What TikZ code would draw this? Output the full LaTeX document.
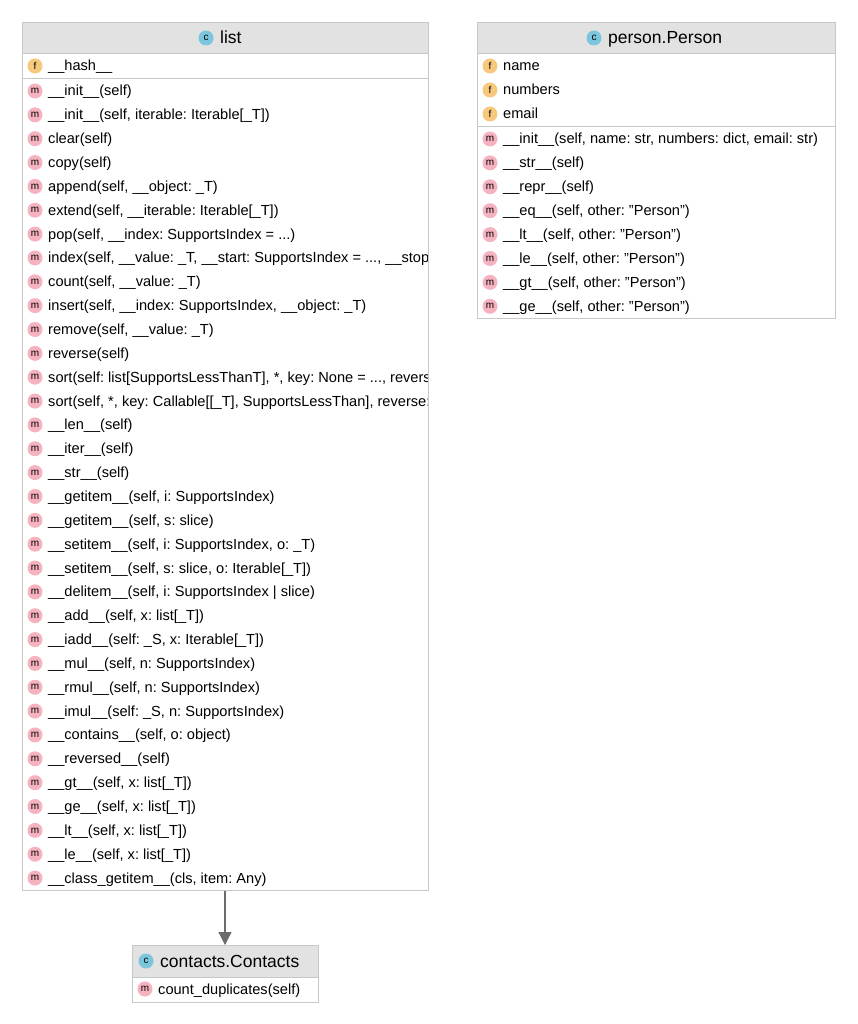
\documentclass[tikz,border=0pt]{standalone}
\usepackage{fontspec}
\setmainfont[Ligatures=ResetAll]{Liberation Sans}
\usetikzlibrary{arrows.meta}
\definecolor{hdr}{HTML}{E2E2E2}
\definecolor{bord}{HTML}{C8C8C8}
\definecolor{icf}{HTML}{F6C97C}
\definecolor{icm}{HTML}{F6B3BF}
\definecolor{icc}{HTML}{7CC6DD}
\newcommand{\ellip}{...}
\newcommand{\qq}{\symbol{34}}
\frenchspacing
\tikzset{
 box/.style={draw=bord,line width=0.8pt,fill=white,inner sep=0,anchor=north west},
 hbox/.style={draw=bord,line width=0.8pt,fill=hdr,inner sep=0,anchor=north west},
 ico/.style={circle,inner sep=0,minimum size=15pt,font=\fontsize{10}{10}\selectfont},
 itm/.style={anchor=base west,inner sep=0,font=\fontsize{14.6}{15}\selectfont},
 ttl/.style={anchor=base west,inner sep=0,font=\fontsize{17.5}{18}\selectfont},
}
\newcommand{\rowitem}[5]{% x, y, kind color, letter, text
 \node[ico,fill=#3] at (#1+13,#2) {#4};
 \node[itm] at (#1+26,#2+5) {#5};
}
\begin{document}
\begin{tikzpicture}[x=1pt,y=-1pt]
\useasboundingbox (0,0) rectangle (857,1024);
% list
\node[box,minimum width=406pt,minimum height=868pt] (list) at (22,22) {};
\node[hbox,minimum width=406pt,minimum height=31pt] (listh) at (22,22) {};
\node[ico,fill=icc] at (206,38) {c};
\node[ttl] at (220,44) {list};
\draw[bord,line width=0.8pt] (22,78) -- (428,78);
\begin{scope}
\clip (22,53) rectangle (427,890);
\rowitem{22}{66}{icf}{f}{\_\_hash\_\_}
\foreach \t [count=\i from 0] in {
{\_\_init\_\_(self)},
{\_\_init\_\_(self, iterable: Iterable[\_T])},
{clear(self)},
{copy(self)},
{append(self, \_\_object: \_T)},
{extend(self, \_\_iterable: Iterable[\_T])},
{pop(self, \_\_index: SupportsIndex = \ellip)},
{index(self, \_\_value: \_T, \_\_start: SupportsIndex = \ellip, \_\_stop: SupportsIndex = \ellip)},
{count(self, \_\_value: \_T)},
{insert(self, \_\_index: SupportsIndex, \_\_object: \_T)},
{remove(self, \_\_value: \_T)},
{reverse(self)},
{sort(self: list[SupportsLessThanT], *, key: None = \ellip, reverse: bool = \ellip)},
{sort(self, *, key: Callable[[\_T], SupportsLessThan], reverse: bool = \ellip)},
{\_\_len\_\_(self)},
{\_\_iter\_\_(self)},
{\_\_str\_\_(self)},
{\_\_getitem\_\_(self, i: SupportsIndex)},
{\_\_getitem\_\_(self, s: slice)},
{\_\_setitem\_\_(self, i: SupportsIndex, o: \_T)},
{\_\_setitem\_\_(self, s: slice, o: Iterable[\_T])},
{\_\_delitem\_\_(self, i: SupportsIndex | slice)},
{\_\_add\_\_(self, x: list[\_T])},
{\_\_iadd\_\_(self: \_S, x: Iterable[\_T])},
{\_\_mul\_\_(self, n: SupportsIndex)},
{\_\_rmul\_\_(self, n: SupportsIndex)},
{\_\_imul\_\_(self: \_S, n: SupportsIndex)},
{\_\_contains\_\_(self, o: object)},
{\_\_reversed\_\_(self)},
{\_\_gt\_\_(self, x: list[\_T])},
{\_\_ge\_\_(self, x: list[\_T])},
{\_\_lt\_\_(self, x: list[\_T])},
{\_\_le\_\_(self, x: list[\_T])},
{\_\_class\_getitem\_\_(cls, item: Any)}}
{\rowitem{22}{91+23.85*\i}{icm}{m}{\t}}
\end{scope}
% person
\node[box,minimum width=358pt,minimum height=296pt] (person) at (477,22) {};
\node[hbox,minimum width=358pt,minimum height=31pt] (personh) at (477,22) {};
\node[ico,fill=icc] at (594,38) {c};
\node[ttl] at (608,44) {person.Person};
\draw[bord,line width=0.8pt] (477,126) -- (835,126);
\rowitem{477}{66}{icf}{f}{name}
\rowitem{477}{90}{icf}{f}{numbers}
\rowitem{477}{114}{icf}{f}{email}
\foreach \t [count=\i from 0] in {
{\_\_init\_\_(self, name: str, numbers: dict, email: str)},
{\_\_str\_\_(self)},
{\_\_repr\_\_(self)},
{\_\_eq\_\_(self, other: \qq Person\qq)},
{\_\_lt\_\_(self, other: \qq Person\qq)},
{\_\_le\_\_(self, other: \qq Person\qq)},
{\_\_gt\_\_(self, other: \qq Person\qq)},
{\_\_ge\_\_(self, other: \qq Person\qq)}}
{\rowitem{477}{139+23.9*\i}{icm}{m}{\t}}
% contacts
\node[box,minimum width=186pt,minimum height=57pt] (contacts) at (132,945) {};
\node[hbox,minimum width=186pt,minimum height=32pt] (contactsh) at (132,945) {};
\node[ico,fill=icc] at (146,961) {c};
\node[ttl] at (160,967) {contacts.Contacts};
\rowitem{132}{989}{icm}{m}{count\_duplicates(self)}
% inheritance
\draw[draw=gray!85!black,line width=1.3pt,-{Triangle[length=13pt,width=13pt]}] (list.south -| 225,0) -- (contactsh.north -| 225,0);
\end{tikzpicture}
\end{document}
